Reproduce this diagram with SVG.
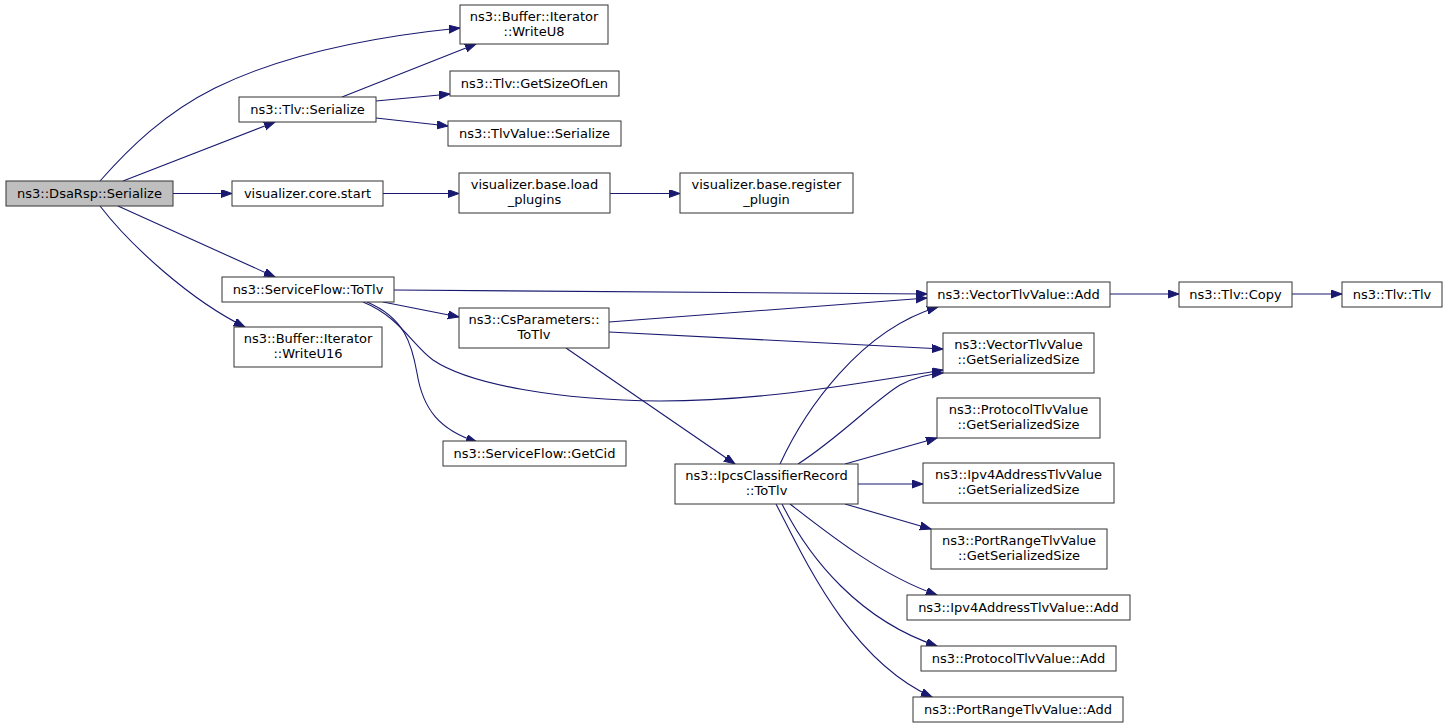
<svg xmlns="http://www.w3.org/2000/svg" width="1448" height="728" viewBox="0 0 1448 728">
<style>
.n rect{fill:#fff;stroke:#333;stroke-width:1}
.n text{font-family:"DejaVu Sans",sans-serif;font-size:13px;text-anchor:middle;fill:#000}
.e path{fill:none;stroke:#191970;stroke-width:1.1;marker-end:url(#a)}
</style>
<defs>
<marker id="a" markerUnits="userSpaceOnUse" markerWidth="12" markerHeight="9" refX="11" refY="4" orient="auto">
<path d="M0,0 L11,4 L0,8 z" fill="#191970" stroke="#191970" stroke-width="1"/>
</marker>
</defs>
<rect width="1448" height="728" fill="#fff"/>
<g class="e" id="edges">
<path d="M100,181 C130,147 165,113 215,88 C280,56 370,37 460,28"/>
<path d="M123,181 L275,122"/>
<path d="M173,193.5 L232,193.5"/>
<path d="M118,206 L275,277"/>
<path d="M100,206 C130,245 190,300 245,327"/>
<path d="M342,97 L476,44"/>
<path d="M376,101 L450,94"/>
<path d="M376,118 L448,126"/>
<path d="M383,193.5 L459,193.5"/>
<path d="M610,193.5 L680,193.5"/>
<path d="M394,290 L927,294"/>
<path d="M383,302 L459,317"/>
<path d="M363,302 C400,317 412,345 433,360 C470,385 560,400 660,401 C760,401 850,385 943,370"/>
<path d="M367,302 C405,318 412,345 417,373 C423,410 440,430 477,442"/>
<path d="M609,322 L927,298"/>
<path d="M609,332 L943,349"/>
<path d="M566,348 L735,464"/>
<path d="M780,464 C805,410 860,330 938,307"/>
<path d="M798,464 C840,437 875,400 900,385 C915,377 930,374 943,373"/>
<path d="M845,464 L937,438"/>
<path d="M858,484 L923,484"/>
<path d="M845,504 L931,529"/>
<path d="M790,504 C830,535 880,575 937,595"/>
<path d="M782,504 C810,560 860,620 937,646"/>
<path d="M776,504 C805,560 850,660 932,697"/>
<path d="M1110,294 L1179,294"/>
<path d="M1292,294 L1342,294"/>
</g>
<g class="n" id="n1"><rect x="6" y="181" width="167" height="25" style="fill:#bfbfbf"/><text x="89.5" y="198">ns3::DsaRsp::Serialize</text></g>
<g class="n" id="n2"><rect x="239" y="97" width="137" height="25"/><text x="307.5" y="114">ns3::Tlv::Serialize</text></g>
<g class="n" id="n3"><rect x="460" y="5" width="148" height="39"/><text x="534" y="21">ns3::Buffer::Iterator</text><text x="534" y="36">::WriteU8</text></g>
<g class="n" id="n4"><rect x="450" y="71" width="169" height="25"/><text x="534.5" y="88">ns3::Tlv::GetSizeOfLen</text></g>
<g class="n" id="n5"><rect x="448" y="121" width="173" height="25"/><text x="534.5" y="138">ns3::TlvValue::Serialize</text></g>
<g class="n" id="n6"><rect x="232" y="181" width="151" height="25"/><text x="307.5" y="198">visualizer.core.start</text></g>
<g class="n" id="n7"><rect x="459" y="173" width="151" height="40"/><text x="534.5" y="189">visualizer.base.load</text><text x="534.5" y="204">_plugins</text></g>
<g class="n" id="n8"><rect x="680" y="173" width="173" height="40"/><text x="766.5" y="189">visualizer.base.register</text><text x="766.5" y="204">_plugin</text></g>
<g class="n" id="n9"><rect x="222" y="277" width="172" height="25"/><text x="308" y="294">ns3::ServiceFlow::ToTlv</text></g>
<g class="n" id="n10"><rect x="234" y="327" width="148" height="40"/><text x="308" y="343">ns3::Buffer::Iterator</text><text x="308" y="358">::WriteU16</text></g>
<g class="n" id="n11"><rect x="459" y="308" width="150" height="40"/><text x="534" y="324">ns3::CsParameters::</text><text x="534" y="339">ToTlv</text></g>
<g class="n" id="n12"><rect x="443" y="441" width="183" height="25"/><text x="534.5" y="458">ns3::ServiceFlow::GetCid</text></g>
<g class="n" id="n13"><rect x="675" y="464" width="183" height="40"/><text x="766.5" y="480">ns3::IpcsClassifierRecord</text><text x="766.5" y="495">::ToTlv</text></g>
<g class="n" id="n14"><rect x="927" y="282" width="183" height="25"/><text x="1018.5" y="299">ns3::VectorTlvValue::Add</text></g>
<g class="n" id="n15"><rect x="943" y="333" width="151" height="40"/><text x="1018.5" y="349">ns3::VectorTlvValue</text><text x="1018.5" y="364">::GetSerializedSize</text></g>
<g class="n" id="n16"><rect x="937" y="398" width="163" height="40"/><text x="1018.5" y="414">ns3::ProtocolTlvValue</text><text x="1018.5" y="429">::GetSerializedSize</text></g>
<g class="n" id="n17"><rect x="923" y="463" width="191" height="40"/><text x="1018.5" y="479">ns3::Ipv4AddressTlvValue</text><text x="1018.5" y="494">::GetSerializedSize</text></g>
<g class="n" id="n18"><rect x="931" y="529" width="176" height="40"/><text x="1019" y="545">ns3::PortRangeTlvValue</text><text x="1019" y="560">::GetSerializedSize</text></g>
<g class="n" id="n19"><rect x="907" y="595" width="223" height="25"/><text x="1018.5" y="612">ns3::Ipv4AddressTlvValue::Add</text></g>
<g class="n" id="n20"><rect x="921" y="646" width="195" height="25"/><text x="1018.5" y="663">ns3::ProtocolTlvValue::Add</text></g>
<g class="n" id="n21"><rect x="913" y="697" width="210" height="25"/><text x="1018" y="714">ns3::PortRangeTlvValue::Add</text></g>
<g class="n" id="n22"><rect x="1179" y="282" width="113" height="25"/><text x="1235.5" y="299">ns3::Tlv::Copy</text></g>
<g class="n" id="n23"><rect x="1342" y="282" width="100" height="25"/><text x="1392" y="299">ns3::Tlv::Tlv</text></g>
</svg>
